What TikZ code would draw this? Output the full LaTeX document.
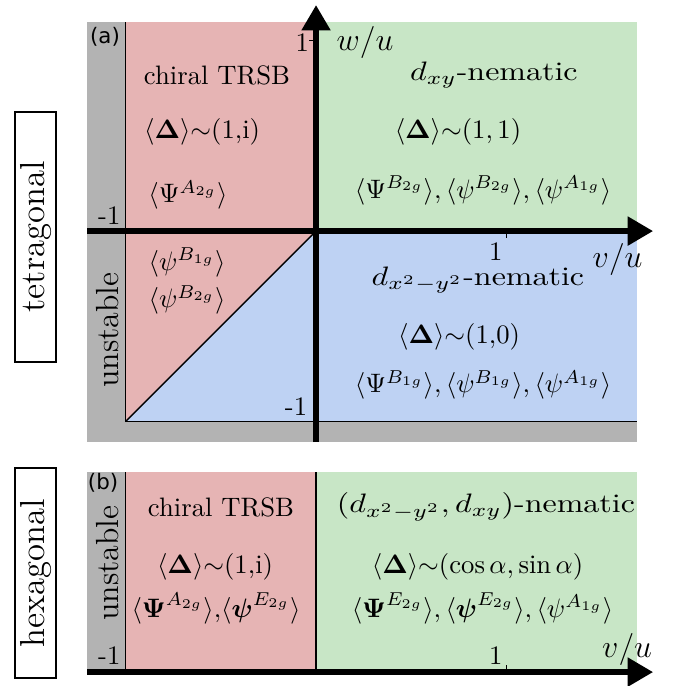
\documentclass[tikz,border=0pt]{standalone}
\usepackage{amsmath}
\usepackage{amssymb}
\usepackage{fontspec}
\newfontfamily\panelfont{DejaVu Sans}
\usetikzlibrary{arrows.meta, positioning}
\definecolor{chiralcolor}{RGB}{230,180,180}
\definecolor{xycolor}{RGB}{200,230,198}
\definecolor{xxyycolor}{RGB}{190,210,243}
\definecolor{unstcolor}{RGB}{179,179,179}
\newcommand{\widetext}[1]{\scalebox{1.2}[1]{#1}}

\begin{document}
\begin{tikzpicture}[
    x=2.51cm, y=2.51cm,
    axis/.style={line width=2pt, -{Triangle[length=9.5pt,width=10.5pt]}},
    border/.style={line width=0.5pt},
    tickmark/.style={line width=0.5pt},
    phase/.style={font=\normalsize, inner sep=1pt},
    ticklabel/.style={font=\normalsize, inner sep=1pt},
    varlabel/.style={font=\large, inner sep=0pt},
    unst/.style={rotate=90, font=\large, inner sep=0pt},
    sidebox/.style={draw, line width=0.6pt, rotate=90, minimum height=15.4pt, inner sep=0pt, font=\fontsize{13}{15}\selectfont},
    panel/.style={font=\panelfont\footnotesize, inner sep=0pt}
]
\useasboundingbox (-1.659,-2.388) rectangle (1.890,1.213);

% (a) tetragonal
\fill[unstcolor] (-1.202,-1.108) rectangle (1.685,1.097);
\fill[chiralcolor] (-1,-1) rectangle (0,1.097);
\fill[xycolor] (0,0) rectangle (1.685,1.097);
\fill[xxyycolor] (0,-1) rectangle (1.685,0);
\fill[xxyycolor] (-1,-1) -- (0,0) -- (0,-1) -- cycle;
\draw[border] (-1,1.097) -- (-1,-1) -- (1.685,-1);
\draw[border] (-1,-1) -- (0,0);

% (b) hexagonal
\fill[unstcolor] (-1.202,-2.315) rectangle (-1,-1.265);
\fill[chiralcolor] (-1,-2.315) rectangle (0,-1.265);
\fill[xycolor] (0,-2.315) rectangle (1.685,-1.265);
\draw[border] (-1,-1.265) -- (-1,-2.315);
\draw[border] (0,-1.265) -- (0,-2.315);

% axes
\coordinate (vaxL) at (-1.202,0);
\coordinate (vaxR) at (1.769,0);
\coordinate (waxB) at (0,-1.108);
\coordinate (waxT) at (0,1.186);
\coordinate (haxL) at (-1.202,-2.315);
\coordinate (haxR) at (1.769,-2.315);
\draw[axis] (vaxL) -- (vaxR);
\draw[axis] (waxB) -- (waxT);
\draw[axis] (haxL) -- (haxR);

% ticks
\draw[tickmark] (-1,0) -- (-1,0.035);
\draw[tickmark] (0,1) -- (-0.035,1);
\draw[tickmark] (1,0) -- (1,-0.035);
\draw[tickmark] (0,-1) -- (-0.035,-1);
\draw[tickmark] (-1,-2.315) -- (-1,-2.28);
\draw[tickmark] (1,-2.315) -- (1,-2.28);

\node (ma) [ticklabel, anchor=south east] at (-1.01,0.02) {-1};
\node (pa) [ticklabel, anchor=east] at (-0.02,0.99) {1};
\node (pv) [ticklabel, anchor=north east] at (0.995,-0.045) {1};
\node (mw) [ticklabel, anchor=south east] at (-0.03,-0.985) {-1};
\node (mb) [ticklabel, anchor=south east] at (-1.01,-2.29) {-1};
\node (pb) [ticklabel, anchor=south east] at (0.995,-2.29) {1};

\node (wlab) [varlabel] at (0.257,0.992) {$w/u$};
\node (vlab) [varlabel] at (1.583,-0.147) {$v/u$};
\node (vlabb) [varlabel] at (1.633,-2.194) {$v/u$};

\node (tagA) [panel] at (-1.108,1.018) {(a)};
\node (tagB) [panel] at (-1.118,-1.323) {(b)};

% phases (a)
\node (chiralA) [phase] at (-0.520,0.819) {chiral TRSB};
\node (gapA) [phase] at (-0.598,0.520) {$\langle\boldsymbol{\Delta}\rangle{\sim}(1{,}\mathrm{i})$};
\node (orderA) [phase] at (-0.672,0.189) {$\langle\Psi^{A_{2g}}\rangle$};
\node (psiBone) [phase] at (-0.677,-0.163) {$\langle\psi^{B_{1g}}\rangle$};
\node (psiBtwo) [phase] at (-0.677,-0.362) {$\langle\psi^{B_{2g}}\rangle$};
\node (unstA) [unst] at (-1.092,-0.520) {unstable};

\node (xyA) [phase] at (0.934,0.819) {\widetext{$d_{xy}$-nematic}};
\node (gapxy) [phase] at (0.745,0.520) {$\langle\boldsymbol{\Delta}\rangle{\sim}(1,1)$};
\node (orderxy) [phase] at (0.877,0.215) {$\langle\Psi^{B_{2g}}\rangle, \langle\psi^{B_{2g}}\rangle, \langle\psi^{A_{1g}}\rangle$};

\node (xxyyA) [phase] at (0.850,-0.257) {\widetext{$d_{x^2-y^2}$-nematic}};
\node (gapxxyy) [phase] at (0.751,-0.556) {$\langle\boldsymbol{\Delta}\rangle{\sim}(1{,}0)$};
\node (orderxxyy) [phase] at (0.877,-0.808) {$\langle\Psi^{B_{1g}}\rangle, \langle\psi^{B_{1g}}\rangle, \langle\psi^{A_{1g}}\rangle$};

% phases (b)
\node (chiralB) [phase] at (-0.499,-1.449) {chiral TRSB};
\node (gapB) [phase] at (-0.530,-1.764) {$\langle\boldsymbol{\Delta}\rangle{\sim}(1{,}\mathrm{i})$};
\node (orderB) [phase] at (-0.525,-1.979) {$\langle\boldsymbol{\Psi}^{A_{2g}}\rangle{,}\langle\boldsymbol{\psi}^{E_{2g}}\rangle$};
\node (unstB) [unst] at (-1.097,-1.743) {unstable};

\node (nemB) [phase] at (0.892,-1.449) {\widetext{$(d_{x^2-y^2},d_{xy})$-nematic}};
\node (gapnem) [phase] at (0.848,-1.764) {$\langle\boldsymbol{\Delta}\rangle{\sim}(\cos\alpha,\sin\alpha)$};
\node (ordernem) [phase] at (0.874,-1.979) {$\langle\boldsymbol{\Psi}^{E_{2g}}\rangle, \langle\boldsymbol{\psi}^{E_{2g}}\rangle, \langle\psi^{A_{1g}}\rangle$};

% side labels
\node (tetra) [sidebox, minimum width=3.29cm] at (-1.472,-0.031) {tetragonal};
\node (hexa) [sidebox, minimum width=2.77cm] at (-1.472,-1.795) {hexagonal};
\end{tikzpicture}
\end{document}
